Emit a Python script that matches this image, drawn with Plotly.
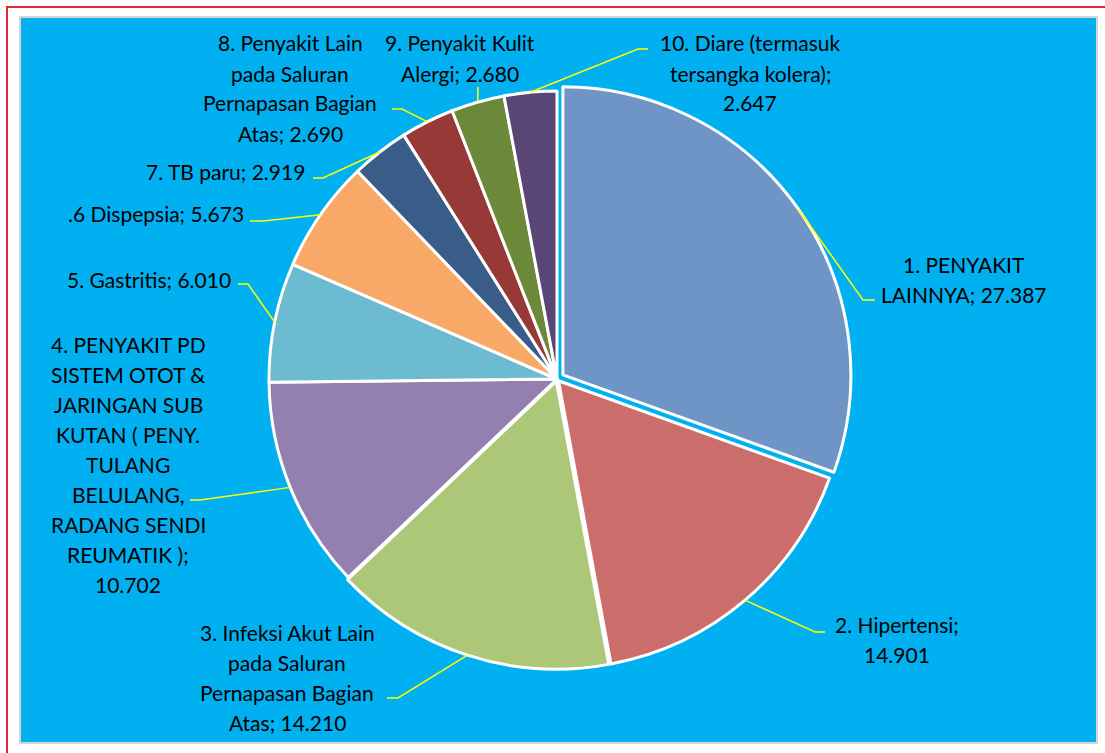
import math
import plotly.graph_objects as go

# ---- data ----
labels = [
    "1. PENYAKIT LAINNYA",
    "2. Hipertensi",
    "3. Infeksi Akut Lain pada Saluran Pernapasan Bagian Atas",
    "4. PENYAKIT PD SISTEM OTOT & JARINGAN SUB KUTAN ( PENY. TULANG BELULANG, RADANG SENDI REUMATIK )",
    "5. Gastritis",
    ".6 Dispepsia",
    "7. TB paru",
    "8. Penyakit Lain pada Saluran Pernapasan Bagian Atas",
    "9. Penyakit Kulit Alergi",
    "10. Diare (termasuk tersangka kolera)",
]
values = [27387, 14901, 14210, 10702, 6010, 5673, 2919, 2690, 2680, 2647]
value_text = ["27.387", "14.901", "14.210", "10.702", "6.010", "5.673", "2.919", "2.690", "2.680", "2.647"]
label_lines = [
    ["1. PENYAKIT", "LAINNYA; 27.387"],
    ["2. Hipertensi;", "14.901"],
    ["3. Infeksi Akut Lain", "pada Saluran", "Pernapasan Bagian", "Atas; 14.210"],
    ["4. PENYAKIT PD", "SISTEM OTOT &", "JARINGAN SUB", "KUTAN ( PENY.", "TULANG",
     "BELULANG,", "RADANG SENDI", "REUMATIK );", "10.702"],
    ["5. Gastritis; 6.010"],
    [".6 Dispepsia; 5.673"],
    ["7. TB paru; 2.919"],
    ["8. Penyakit Lain", "pada Saluran", "Pernapasan Bagian", "Atas; 2.690"],
    ["9. Penyakit Kulit", "Alergi; 2.680"],
    ["10. Diare (termasuk", "tersangka kolera);", "2.647"],
]

# ---- styling / layout ----
W, H = 1105, 753
colors = ["#6F95C6", "#CB6E6B", "#ADC778", "#9380B1", "#6DBBD0",
          "#F8A967", "#3A5C88", "#973936", "#6C8839", "#594676"]
pulls = [0.025, 0.008, 0.008, 0, 0, 0, 0, 0, 0, 0]
CX, CY, R = 557, 379, 288
maxpull = max(pulls)
half = R * (1 + maxpull)

# label placement: (anchor, x, first-line y) in pixels
label_pos = [
    ("center", 964, 264), ("center", 897, 624), ("center", 287, 632), ("center", 128, 344),
    ("right", 233, 279), ("right", 246, 214), ("right", 307, 171), ("center", 290, 43),
    ("center", 460, 43), ("center", 750, 43),
]
# leader elbow / end points in pixels
leader_pts = [
    [(863, 300), (875, 300)], [(815, 632), (825, 632)], [(398, 698), (387, 698)],
    [(200, 500), (190, 500)], [(248, 284), (238, 284)], [(263, 221), (250, 221)],
    [(323, 178), (313, 178)], [(402, 109), (392, 109)], [(478, 87)], [(638, 49), (648, 49)],
]
LINE_H = 30
FONT = "Lato"
FS = 21


def px(x):
    return x / W


def py(y):
    return 1 - y / H


fig = go.Figure()
fig.add_trace(go.Pie(
    labels=labels, values=values, sort=False, direction="clockwise", rotation=0,
    pull=pulls, textinfo="none", hoverinfo="label+value",
    marker=dict(colors=colors, line=dict(color="white", width=3)),
    domain=dict(x=[px(CX - half), px(CX + half)], y=[py(CY + half), py(CY - half)]),
    showlegend=False,
))

shapes = [
    dict(type="rect", xref="paper", yref="paper", x0=px(7), x1=px(1110), y0=py(760), y1=py(7),
         line=dict(color="#E5262E", width=2), fillcolor="white", layer="below"),
    dict(type="rect", xref="paper", yref="paper", x0=px(20), x1=px(1097), y0=py(743), y1=py(17),
         line=dict(color="#D5D5D5", width=2), fillcolor="#00B0F0", layer="below"),
]

annotations = []
total = sum(values)
cum = 0
for i, v in enumerate(values):
    mid = (cum + v / 2) / total * 2 * math.pi
    cum += v
    r0 = R * (1 + pulls[i])
    sx = CX + r0 * math.sin(mid)
    sy = CY - r0 * math.cos(mid)
    pts = [(sx, sy)] + leader_pts[i]
    path = "M " + " L ".join(f"{px(x):.5f},{py(y):.5f}" for x, y in pts)
    shapes.append(dict(type="path", xref="paper", yref="paper", path=path,
                       line=dict(color="#FFFF00", width=1.5), layer="above"))
    anchor, lx, ly = label_pos[i]
    for k, line in enumerate(label_lines[i]):
        annotations.append(dict(
            x=px(lx), y=py(ly + k * LINE_H), xref="paper", yref="paper",
            text=line, showarrow=False, xanchor=anchor, yanchor="middle",
            font=dict(family=FONT, size=FS, color="black"),
        ))

fig.update_layout(
    width=W, height=H, margin=dict(l=0, r=0, t=0, b=0),
    paper_bgcolor="white", plot_bgcolor="white",
    shapes=shapes, annotations=annotations,
)
fig.write_html("out.html", config={"displayModeBar": False},
               post_script="document.body.style.margin='0';")
